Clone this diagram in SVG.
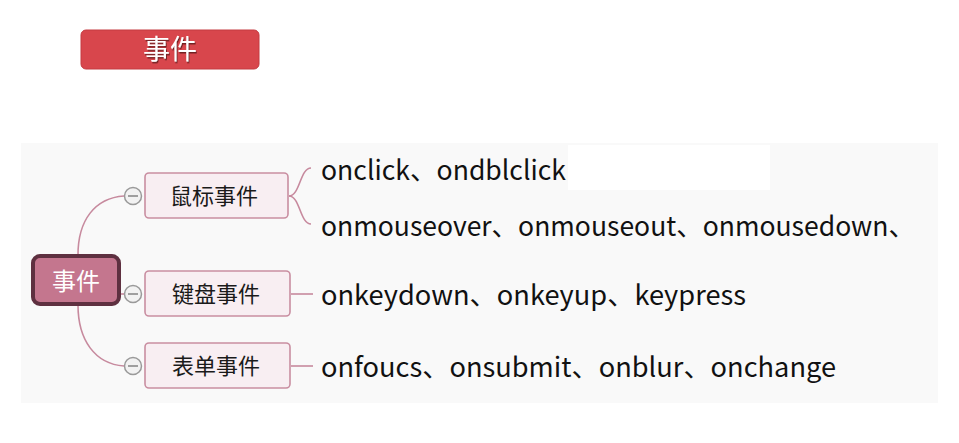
<svg xmlns="http://www.w3.org/2000/svg" width="959" height="443" viewBox="0 0 959 443">
<defs>
<filter id="ts" x="-20%" y="-20%" width="140%" height="140%"><feDropShadow dx="1" dy="1.5" stdDeviation="0.6" flood-color="#5a1a1e" flood-opacity="0.8"/></filter>
</defs>
<style>
.cjk{font-family:"Noto Sans CJK SC","Noto Sans",sans-serif}
.br rect{fill:#f8eef2;stroke:#c98ea1;stroke-width:1.6}
.br text{font-size:22px;fill:#1a1a1a;text-anchor:middle}
.leaf{font-size:27px;fill:#111}
.con path{fill:none;stroke:#c78a9e;stroke-width:1.6}
.tog circle{fill:#f2f2f2;stroke:#9a9a9a;stroke-width:1.5}
.tog line{stroke:#8a8a8a;stroke-width:1.6}
</style>
<rect x="0" y="0" width="959" height="443" fill="#ffffff"/>
<g id="title">
<rect x="81" y="30" width="178" height="39" rx="5" fill="#d8464c" stroke="#c43a40" stroke-width="1"/>
<text x="170" y="59" class="cjk" font-size="27" fill="#fff" text-anchor="middle" filter="url(#ts)">事件</text>
</g>
<rect x="21" y="143" width="917" height="260" fill="#f9f9f9"/>
<rect x="568" y="145" width="202" height="45" fill="#ffffff"/>
<g id="connectors" class="con">
<path d="M78 255 C78 220 95 198 124 196"/>
<path d="M120 294 L124 294"/>
<path d="M78 305 C78 340 95 364 124 366"/>
<path d="M289 196 C300 196 300 168 311 168"/>
<path d="M289 196 C300 196 300 224 311 224"/>
<path d="M291 294 L313 294"/>
<path d="M291 366 L313 366"/>
</g>
<g id="root">
<rect x="33" y="256" width="86" height="48" rx="7" fill="#c4768e" stroke="#5e3040" stroke-width="4"/>
<text x="76" y="290" class="cjk" font-size="24" fill="#fff" text-anchor="middle">事件</text>
</g>
<g class="tog">
<circle cx="133" cy="196" r="8.5"/><line x1="128" y1="196" x2="138" y2="196"/>
<circle cx="133" cy="294" r="8.5"/><line x1="128" y1="294" x2="138" y2="294"/>
<circle cx="133" cy="366" r="8.5"/><line x1="128" y1="366" x2="138" y2="366"/>
</g>
<g id="mouse" class="br">
<rect x="145" y="173" width="143" height="45" rx="4"/>
<text x="214" y="204" class="cjk">鼠标事件</text>
</g>
<g id="keyboard" class="br">
<rect x="145" y="271" width="145" height="45" rx="4"/>
<text x="216" y="302" class="cjk">键盘事件</text>
</g>
<g id="form" class="br">
<rect x="145" y="343" width="145" height="45" rx="4"/>
<text x="216" y="374" class="cjk">表单事件</text>
</g>
<g id="leaf-mouse1"><text x="321" y="180" class="cjk leaf" textLength="245" lengthAdjust="spacingAndGlyphs">onclick、ondblclick</text></g>
<g id="leaf-mouse2"><text x="321" y="236" class="cjk leaf" textLength="594" lengthAdjust="spacingAndGlyphs">onmouseover、onmouseout、onmousedown、</text></g>
<g id="leaf-key"><text x="321" y="305" class="cjk leaf" textLength="425" lengthAdjust="spacingAndGlyphs">onkeydown、onkeyup、keypress</text></g>
<g id="leaf-form"><text x="321" y="377" class="cjk leaf" textLength="515" lengthAdjust="spacingAndGlyphs">onfoucs、onsubmit、onblur、onchange</text></g>
</svg>
